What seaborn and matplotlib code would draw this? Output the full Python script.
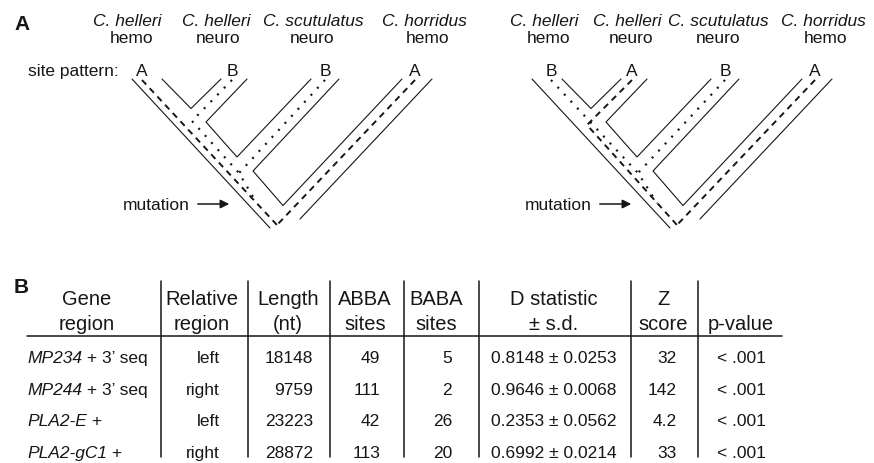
import pandas as pd
import matplotlib
matplotlib.use("Agg")
import matplotlib.pyplot as plt
import seaborn as sns

# ---- panel A: species tree data ----
tip_species = ["C. helleri", "C. helleri", "C. scutulatus", "C. horridus"]
tip_tissue = ["hemo", "neuro", "neuro", "hemo"]
site_patterns = [["A", "B", "B", "A"], ["B", "A", "B", "A"]]
tree_offsets = [0, 400]

# tube walls of the species tree (left tree, pixel units)
wall_x = [[132, 270], [162, 191, 221], [247, 206, 237, 311], [339, 253, 283, 402], [432, 300]]
wall_y = [[80, 229], [80, 109.5, 80], [80, 123, 158, 80], [80, 172, 206.5, 80], [80, 220]]

# gene lineages, one list per tip, for each tree
lineage_x = [
    [[142, 277], [232, 192, 239, 256], [325, 239], [415, 277]],
    [[551, 638, 657], [632, 587, 677], [725, 638], [815, 677]],
]
lineage_y = [
    [[81, 226], [81, 122, 174, 203], [81, 174], [81, 226]],
    [[81, 174, 204], [81, 126, 226], [81, 174], [81, 226]],
]
species_x = [[127, 216, 313, 424], [544, 627, 718, 823]]
tissue_x = [[132, 218, 312, 428], [549, 631, 718, 826]]

# ---- panel B: table data ----
header_top = ["Gene", "Relative", "Length", "ABBA", "BABA", "D statistic", "Z", ""]
header_bot = ["region", "region", "(nt)", "sites", "sites", "± s.d.", "score", "p-value"]
gene_it = ["MP234", "MP244", "PLA2-E", "PLA2-gC1"]
gene_rest = [" + 3’ seq", " + 3’ seq", " +", " +"]
rel_region = ["left", "right", "left", "right"]
length_nt = [18148, 9759, 23223, 28872]
abba_sites = [49, 111, 42, 113]
baba_sites = [5, 2, 26, 20]
d_stat = [0.8148, 0.9646, 0.2353, 0.6992]
d_sd = [0.0253, 0.0068, 0.0562, 0.0214]
z_score = ["32", "142", "4.2", "33"]
p_value = ["< .001", "< .001", "< .001", "< .001"]

sns.set_style("white")
plt.rcParams["font.family"] = ["Liberation Sans", "DejaVu Sans"]
ink = "#161616"

fig = plt.figure(figsize=(8.74, 4.64), dpi=100)
ax = fig.add_axes([0, 0, 1, 1])

# species tree tubes
rows = []
for off in tree_offsets:
    for i, (xs, ys) in enumerate(zip(wall_x, wall_y)):
        for x, y in zip(xs, ys):
            rows.append({"x": x + off, "y": y, "seg": f"{off}-{i}"})
walls = pd.DataFrame(rows)
sns.lineplot(data=walls, x="x", y="y", units="seg", estimator=None, sort=False,
             color=ink, lw=0.8, legend=False, ax=ax)

ax.set_xlim(0, 874)
ax.set_ylim(464, 0)
ax.set_axis_off()

# gene lineages
for t, pats in enumerate(site_patterns):
    for xs, ys, p in zip(lineage_x[t], lineage_y[t], pats):
        if p == "A":
            ax.plot(xs, ys, color=ink, lw=1.4, dashes=(3.2, 2.6))
        else:
            ax.plot(xs, ys, color=ink, lw=1.6, dashes=(0.9, 3.4))

# tip labels
for t, off in enumerate(tree_offsets):
    for i in range(4):
        ax.text(species_x[t][i], 26, tip_species[i], style="italic", fontsize=12.5,
                ha="center", va="baseline", color=ink)
        ax.text(tissue_x[t][i], 43, tip_tissue[i], fontsize=12.5,
                ha="center", va="baseline", color=ink)
        ax.text(lineage_x[t][i][0], 76, site_patterns[t][i], fontsize=12.5,
                ha="center", va="baseline", color=ink)
    mx = [190, 592][t]
    ax.text(mx, 210, "mutation", fontsize=12.5, ha="right", va="baseline", color=ink)
    ax.annotate("", xy=(mx + 42, 205), xytext=(mx + 5, 205),
                arrowprops=dict(arrowstyle="-|>", color=ink, lw=1.1, mutation_scale=13))

ax.text(28, 76, "site pattern:", fontsize=12.5, ha="left", va="baseline", color=ink)
ax.text(14, 29.5, "A", fontsize=15, fontweight="bold", ha="left", va="baseline", color=ink)
ax.text(14, 293, "B", fontsize=15, fontweight="bold", ha="left", va="baseline", color=ink)

# ---- table ----
head_x = [87, 202, 288, 365, 436, 554, 663, 741]
for hx, h1, h2 in zip(head_x, header_top, header_bot):
    ax.text(hx, 305, h1, fontsize=14.5, ha="center", va="baseline", color=ink)
    ax.text(hx, 330, h2, fontsize=14.5, ha="center", va="baseline", color=ink)

ax.plot([27, 782], [337, 337], color=ink, lw=1.1)
for vx in [161, 248, 330, 404, 479, 631, 698]:
    ax.plot([vx, vx], [282, 458], color=ink, lw=1.1)

renderer = fig.canvas.get_renderer()
row_y = [363.5, 395, 426.5, 458]
for r, by in enumerate(row_y):
    t = ax.text(27, by, gene_it[r], style="italic", fontsize=12.5, ha="left",
                va="baseline", color=ink)
    bb = t.get_window_extent(renderer=renderer)
    x_end = ax.transData.inverted().transform((bb.x1, bb.y0))[0]
    ax.text(x_end, by, gene_rest[r], fontsize=12.5, ha="left", va="baseline", color=ink)
    ax.text(220, by, rel_region[r], fontsize=12.5, ha="right", va="baseline", color=ink)
    ax.text(313, by, str(length_nt[r]), fontsize=12.5, ha="right", va="baseline", color=ink)
    ax.text(380, by, str(abba_sites[r]), fontsize=12.5, ha="right", va="baseline", color=ink)
    ax.text(452, by, str(baba_sites[r]), fontsize=12.5, ha="right", va="baseline", color=ink)
    ax.text(554, by, f"{d_stat[r]:.4f} ± {d_sd[r]:.4f}", fontsize=12.5, ha="center",
            va="baseline", color=ink)
    ax.text(677, by, z_score[r], fontsize=12.5, ha="right", va="baseline", color=ink)
    ax.text(741, by, p_value[r], fontsize=12.5, ha="center", va="baseline", color=ink)

fig.savefig("out.png", dpi=100)
